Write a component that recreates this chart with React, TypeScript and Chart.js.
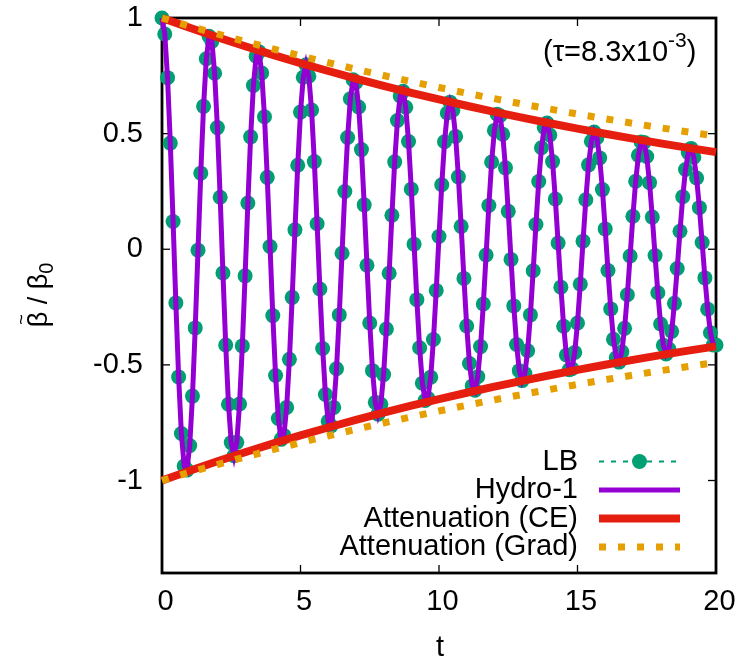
import React, { useEffect, useRef } from 'react';
import { Chart, registerables } from 'chart.js';

Chart.register(...registerables);

// ---- data ----
const T_START = 0;
const T_STEP = 0.1;

// LB samples (t = 0 .. 20, every 0.1)
const lbValues = [
  1.000, 0.931, 0.742, 0.459, 0.120, -0.232, -0.552, -0.797, -0.937, -0.955,
  -0.849, -0.635, -0.340, -0.004, 0.329, 0.618, 0.824, 0.921, 0.899, 0.761,
  0.526, 0.225, -0.103, -0.414, -0.670, -0.836, -0.893, -0.835, -0.669, -0.418,
  -0.115, 0.200, 0.486, 0.708, 0.835, 0.854, 0.762, 0.573, 0.311, 0.012,
  -0.287, -0.546, -0.732, -0.822, -0.805, -0.684, -0.476, -0.208, 0.084, 0.363,
  0.593, 0.744, 0.798, 0.748, 0.602, 0.379, 0.110, -0.172, -0.429, -0.628,
  -0.744, -0.764, -0.684, -0.517, -0.284, -0.017, 0.250, 0.483, 0.651, 0.733,
  0.721, 0.615, 0.431, 0.192, -0.069, -0.319, -0.525, -0.662, -0.713, -0.670,
  -0.542, -0.345, -0.104, 0.147, 0.378, 0.557, 0.663, 0.683, 0.614, 0.466,
  0.260, 0.022, -0.218, -0.426, -0.579, -0.654, -0.645, -0.553, -0.390, -0.178,
  0.055, 0.279, 0.465, 0.589, 0.636, 0.601, 0.488, 0.313, 0.099, -0.126,
  -0.332, -0.494, -0.591, -0.610, -0.551, -0.421, -0.237, -0.025, 0.189, 0.377,
  0.514, 0.584, 0.577, 0.497, 0.352, 0.164, -0.044, -0.245, -0.412, -0.525,
  -0.568, -0.538, -0.439, -0.284, -0.093, 0.107, 0.293, 0.439, 0.527, 0.546,
  0.494, 0.379, 0.217, 0.027, -0.164, -0.333, -0.457, -0.521, -0.517, -0.446,
  -0.319, -0.151, 0.035, 0.214, 0.365, 0.467, 0.507, 0.482, 0.395, 0.258,
  0.088, -0.092, -0.258, -0.389, -0.469, -0.488, -0.443, -0.342, -0.197, -0.029,
  0.143, 0.294, 0.406, 0.464, 0.462, 0.401, 0.288, 0.139, -0.027, -0.188,
  -0.323, -0.415, -0.453, -0.432, -0.355, -0.234, -0.083, 0.078, 0.227, 0.345,
  0.418, 0.436, 0.398, 0.308, 0.180, 0.029, -0.124, -0.259, -0.361, -0.414,
  -0.414,
];

// Hydro-1 follows the LB samples
const hydroValues = lbValues;

// Envelopes
const envT = [0, 1, 2, 3, 4, 5, 6, 7, 8, 9, 10, 11, 12, 13, 14, 15, 16, 17, 18, 19, 20];
const ceEnvelope = [
  1.000, 0.9575, 0.9169, 0.8780, 0.8407, 0.8050, 0.7708, 0.7381, 0.7068, 0.6767,
  0.6480, 0.6205, 0.5942, 0.5689, 0.5448, 0.5216, 0.4995, 0.4783, 0.4580, 0.4385, 0.4199,
];
const gradEnvelope = [
  1.000, 0.9649, 0.9310, 0.8983, 0.8667, 0.8363, 0.8069, 0.7785, 0.7512, 0.7248,
  0.6993, 0.6748, 0.6511, 0.6282, 0.6061, 0.5848, 0.5643, 0.5445, 0.5253, 0.5069, 0.4891,
];

const xTicks = [0, 5, 10, 15, 20];
const yTicks = [-1, -0.5, 0, 0.5, 1];
const legendLabels = ['LB', 'Hydro-1', 'Attenuation (CE)', 'Attenuation (Grad)'];

// ---- styles ----
const FONT = '"Liberation Sans", Arial, Helvetica, sans-serif';
const COL = { lb: '#009E73', hydro: '#9400D3', ce: '#E51E10', grad: '#E69F00' };

const decorPlugin = {
  id: 'decor',
  beforeDatasetsDraw(chart: any) {
    const { ctx, chartArea: a, scales } = chart;
    const x = scales.x;
    const y = scales.y;
    ctx.save();
    ctx.strokeStyle = '#000';
    ctx.lineWidth = 1.3;
    const seg = (x1: number, y1: number, x2: number, y2: number) => {
      ctx.beginPath();
      ctx.moveTo(x1, y1);
      ctx.lineTo(x2, y2);
      ctx.stroke();
    };
    for (const v of xTicks) {
      const px = x.getPixelForValue(v);
      seg(px, a.bottom, px, a.bottom - 8);
      seg(px, a.top, px, a.top + 8);
    }
    for (const v of yTicks) {
      const py = y.getPixelForValue(v);
      seg(a.left, py, a.left + 8, py);
      seg(a.right, py, a.right - 8, py);
    }
    ctx.lineWidth = 2.8;
    ctx.strokeRect(a.left, a.top, a.right - a.left, a.bottom - a.top);
    ctx.restore();
  },
  afterDatasetsDraw(chart: any) {
    const { ctx } = chart;
    ctx.save();
    ctx.fillStyle = '#000';

    // legend
    const rowY = [461.5, 490, 518.5, 547];
    const textRight = 578;
    const s1 = 599;
    const s2 = 680;
    ctx.font = `29px ${FONT}`;
    ctx.textAlign = 'right';
    ctx.textBaseline = 'middle';
    legendLabels.forEach((lab, i) => ctx.fillText(lab, textRight, rowY[i]));

    // LB sample
    ctx.strokeStyle = COL.lb;
    ctx.lineWidth = 2;
    ctx.setLineDash([5, 7]);
    ctx.beginPath();
    ctx.moveTo(s1, rowY[0]);
    ctx.lineTo(s2, rowY[0]);
    ctx.stroke();
    ctx.setLineDash([]);
    ctx.fillStyle = COL.lb;
    ctx.beginPath();
    ctx.arc((s1 + s2) / 2, rowY[0], 7.5, 0, Math.PI * 2);
    ctx.fill();
    // Hydro-1 sample
    ctx.strokeStyle = COL.hydro;
    ctx.lineWidth = 5;
    ctx.beginPath();
    ctx.moveTo(s1, rowY[1]);
    ctx.lineTo(s2, rowY[1]);
    ctx.stroke();
    // CE sample
    ctx.strokeStyle = COL.ce;
    ctx.lineWidth = 8;
    ctx.beginPath();
    ctx.moveTo(s1, rowY[2]);
    ctx.lineTo(s2, rowY[2]);
    ctx.stroke();
    // Grad sample
    ctx.strokeStyle = COL.grad;
    ctx.lineWidth = 7;
    ctx.setLineDash([7, 12]);
    ctx.beginPath();
    ctx.moveTo(s1, rowY[3]);
    ctx.lineTo(s2, rowY[3]);
    ctx.stroke();
    ctx.setLineDash([]);

    // annotation (tau)
    ctx.fillStyle = '#000';
    ctx.textAlign = 'left';
    ctx.textBaseline = 'alphabetic';
    let px = 543;
    const base = 61;
    ctx.font = `29px ${FONT}`;
    const part1 = '(\u03C4=8.3x10';
    ctx.fillText(part1, px, base);
    px += ctx.measureText(part1).width;
    ctx.font = `21px ${FONT}`;
    ctx.fillText('-3', px, base - 14);
    px += ctx.measureText('-3').width;
    ctx.font = `29px ${FONT}`;
    ctx.fillText(')', px, base);

    // x title
    ctx.textAlign = 'center';
    ctx.font = `29px ${FONT}`;
    ctx.fillText('t', 440, 656);

    // y title (rotated): beta-tilde / beta_0
    ctx.save();
    ctx.translate(47, 295);
    ctx.rotate(-Math.PI / 2);
    ctx.textAlign = 'left';
    ctx.textBaseline = 'alphabetic';
    const big = `27px ${FONT}`;
    const small = `20px ${FONT}`;
    ctx.font = big;
    const wB = ctx.measureText('\u03B2').width;
    const wS = ctx.measureText(' / ').width;
    ctx.font = small;
    const w0 = ctx.measureText('0').width;
    const W = 2 * wB + wS + w0;
    let p = -W / 2;
    ctx.font = big;
    ctx.fillText('\u03B2', p, 0);
    ctx.font = `18px ${FONT}`;
    ctx.textAlign = 'center';
    ctx.textBaseline = 'middle';
    ctx.fillText('~', p + wB / 2, -25);
    ctx.textAlign = 'left';
    ctx.textBaseline = 'alphabetic';
    p += wB;
    ctx.font = big;
    ctx.fillText(' / ', p, 0);
    p += wS;
    ctx.fillText('\u03B2', p, 0);
    p += wB;
    ctx.font = small;
    ctx.fillText('0', p, 6);
    ctx.restore();

    ctx.restore();
  },
};

export default function App() {
  const ref = useRef<HTMLCanvasElement | null>(null);

  useEffect(() => {
    if (!ref.current) return;
    const lbData = lbValues.map((v, i) => ({ x: T_START + i * T_STEP, y: v }));
    const hydroData = hydroValues.map((v, i) => ({ x: T_START + i * T_STEP, y: v }));
    const ceUp = envT.map((t, i) => ({ x: t, y: ceEnvelope[i] }));
    const ceDown = envT.map((t, i) => ({ x: t, y: -ceEnvelope[i] }));
    const grUp = envT.map((t, i) => ({ x: t, y: gradEnvelope[i] }));
    const grDown = envT.map((t, i) => ({ x: t, y: -gradEnvelope[i] }));

    const lineBase = { pointRadius: 0, pointHoverRadius: 0, pointHitRadius: 0, tension: 0, clip: false as any, fill: false };

    const chart = new Chart(ref.current, {
      type: 'line',
      data: {
        datasets: [
          {
            label: 'LB',
            data: lbData,
            borderColor: COL.lb,
            borderWidth: 2,
            borderDash: [5, 7],
            pointRadius: 7.5,
            pointHoverRadius: 7.5,
            pointBackgroundColor: COL.lb,
            pointBorderWidth: 0,
            pointBorderColor: COL.lb,
            tension: 0,
            clip: false as any,
            order: 4,
          },
          { ...lineBase, label: 'Hydro-1', data: hydroData, borderColor: COL.hydro, borderWidth: 5, order: 3 },
          { ...lineBase, label: 'Attenuation (CE)', data: ceUp, borderColor: COL.ce, borderWidth: 8, order: 2 },
          { ...lineBase, label: 'Attenuation (CE) lower', data: ceDown, borderColor: COL.ce, borderWidth: 8, order: 2 },
          { ...lineBase, label: 'Attenuation (Grad)', data: grUp, borderColor: COL.grad, borderWidth: 7, borderDash: [7, 12], borderCapStyle: 'butt', order: 1 },
          { ...lineBase, label: 'Attenuation (Grad) lower', data: grDown, borderColor: COL.grad, borderWidth: 7, borderDash: [7, 12], borderCapStyle: 'butt', order: 1 },
        ] as any,
      },
      options: {
        animation: false,
        responsive: false,
        events: [],
        layout: { padding: { left: 0, right: 32, top: 18, bottom: 0 } },
        plugins: { legend: { display: false }, tooltip: { enabled: false } },
        scales: {
          x: {
            type: 'linear',
            min: 0,
            max: 20,
            afterBuildTicks: (s: any) => {
              s.ticks = xTicks.map((v) => ({ value: v }));
            },
            afterFit: (s: any) => {
              s.height = 85;
              s.paddingLeft = 0;
              s.paddingRight = 0;
            },
            grid: { display: false, drawTicks: false },
            border: { display: false },
            ticks: {
              padding: 12,
              labelOffset: 3.5,
              color: '#000',
              autoSkip: false,
              maxRotation: 0,
              font: { family: FONT, size: 29 },
              callback: (v: any) => String(v),
            },
          },
          y: {
            type: 'linear',
            min: -1.4,
            max: 1,
            afterBuildTicks: (s: any) => {
              s.ticks = yTicks.map((v) => ({ value: v }));
            },
            afterFit: (s: any) => {
              s.width = 162;
              s.paddingTop = 0;
              s.paddingBottom = 0;
            },
            grid: { display: false, drawTicks: false },
            border: { display: false },
            ticks: {
              padding: 19,
              color: '#000',
              autoSkip: false,
              font: { family: FONT, size: 29 },
              callback: (v: any) => String(v),
            },
          },
        },
      } as any,
      plugins: [decorPlugin],
    });
    return () => chart.destroy();
  }, []);

  return (
    <div style={{ position: 'absolute', left: 0, top: 0, width: 748, height: 658, background: '#fff' }}>
      <canvas ref={ref} width={748} height={658} style={{ display: 'block', width: 748, height: 658 }} />
    </div>
  );
}
